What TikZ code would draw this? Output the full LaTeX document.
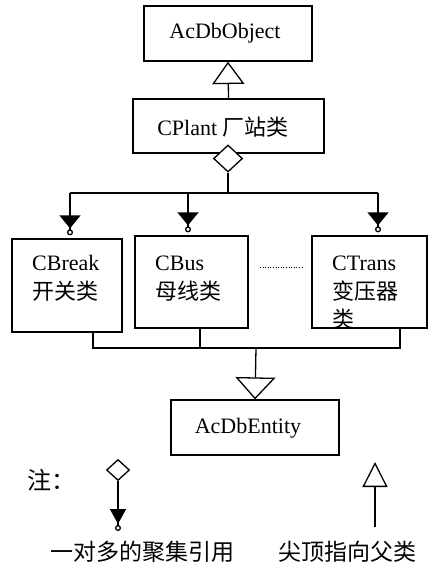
\documentclass[tikz,border=0pt]{standalone}
\usepackage{fontspec}
\setmainfont{Liberation Serif}
\newfontfamily\cjk{Noto Sans CJK SC}
\usetikzlibrary{arrows.meta,shapes.geometric,calc}
\tikzset{
  box/.style={draw, line width=1.3pt, inner sep=0pt},
  txt/.style={font=\fontsize{22}{28}\selectfont, inner sep=0pt},
  ln/.style={line width=1.3pt},
  inherit/.style={ln, -{Triangle[open,width=#1,length=0.7*#1]}},
  aggr/.style={ln, -{Triangle[width=21pt,length=13pt,sep=1pt]Circle[open,length=6pt,width=6pt,sep=3pt]}},
}
\begin{document}
\begin{tikzpicture}[x=1pt,y=-1pt]
\useasboundingbox (0,0) rectangle (429,564);
% boxes
\node[box, minimum width=168pt, minimum height=55pt] (obj) at (228,33.5) {};
\node[txt] (objt) at (225,33) {AcDbObject};
\node[box, minimum width=191pt, minimum height=54pt] (plant) at (228.5,126) {};
\node[txt] (plantt) at (223,127) {CPlant {\cjk 厂站类}};
\node[box, minimum width=110pt, minimum height=93pt] (brk) at (67,285.5) {};
\node[box, minimum width=113pt, minimum height=92pt] (bus) at (191.5,282) {};
\node[box, minimum width=115pt, minimum height=92pt] (trans) at (369.5,282) {};
\node[box, minimum width=168pt, minimum height=55pt] (ent) at (255,427.5) {};
\node[txt] (entt) at (248,428) {AcDbEntity};
% box texts
\node[txt, anchor=base west] (brk1) at (32,270) {CBreak};
\node[txt, anchor=base west] (brk2) at (32,299) {\cjk 开关类};
\node[txt, anchor=base west] (bus1) at (155,270) {CBus};
\node[txt, anchor=base west] (bus2) at (155,299) {\cjk 母线类};
\node[txt, anchor=base west] (tr1) at (332,270) {CTrans};
\node[txt, anchor=base west] (tr2) at (332,299) {\cjk 变压器};
\node[txt, anchor=base west] (tr3) at (332,327) {\cjk 类};
% dotted
\coordinate (d1) at (260,267);
\coordinate (d2) at (303,267);
\draw[line width=1pt, dash pattern=on 1pt off 1.6pt] (d1) -- (d2);
% inheritance top
\draw[inherit=32pt] (plant.north) -- (obj.south);
% diamond and aggregation
\node[diamond, draw, fill=white, line width=1.3pt, minimum width=29pt, minimum height=27pt, inner sep=0pt] (dia) at (228,158.5) {};
\coordinate (top) at (228,193);
\coordinate (b1) at (70,193);
\coordinate (b2) at (188,193);
\coordinate (b3) at (378,193);
\draw[ln] (dia.south) -- (top);
\draw[ln] (b1) -- (b3);
\draw[aggr] (b1) -- (b1 |- brk.north);
\draw[aggr] (b2) -- (b2 |- bus.north);
\draw[aggr] (b3) -- (b3 |- trans.north);
% bottom bus
\coordinate (u1) at (93,348);
\coordinate (u2) at (200,348);
\coordinate (u3) at (400,348);
\coordinate (um) at (256,348);
\draw[ln] (u1 |- brk.south) -- (u1) -- (u3) -- (u3 |- trans.south);
\draw[ln] (u2 |- bus.south) -- (u2);
\draw[ln, -{Triangle[open,width=40pt,length=22pt]}] (um) -- (ent.north);
% legend
\node[font=\fontsize{24}{28}\selectfont, inner sep=0pt] (zhu) at (51,480) {\cjk 注：};
\node[diamond, draw, line width=1.3pt, minimum width=23pt, minimum height=21pt, inner sep=0pt] (ldia) at (118,470) {};
\coordinate (lend) at (118,531);
\draw[ln, -{Triangle[width=16pt,length=15pt,sep=1pt]Circle[open,length=6pt,width=6pt]}] (ldia.south) -- (lend);
\coordinate (rbot) at (375,527);
\coordinate (rtop) at (375,462);
\draw[ln, -{Triangle[open,width=25pt,length=25pt]}] (rbot) -- (rtop);
\node[font=\fontsize{23}{28}\selectfont, inner sep=0pt] (lab1) at (142,552) {\cjk 一对多的聚集引用};
\node[font=\fontsize{23}{28}\selectfont, inner sep=0pt] (lab2) at (347,552) {\cjk 尖顶指向父类};
\end{tikzpicture}
\end{document}
